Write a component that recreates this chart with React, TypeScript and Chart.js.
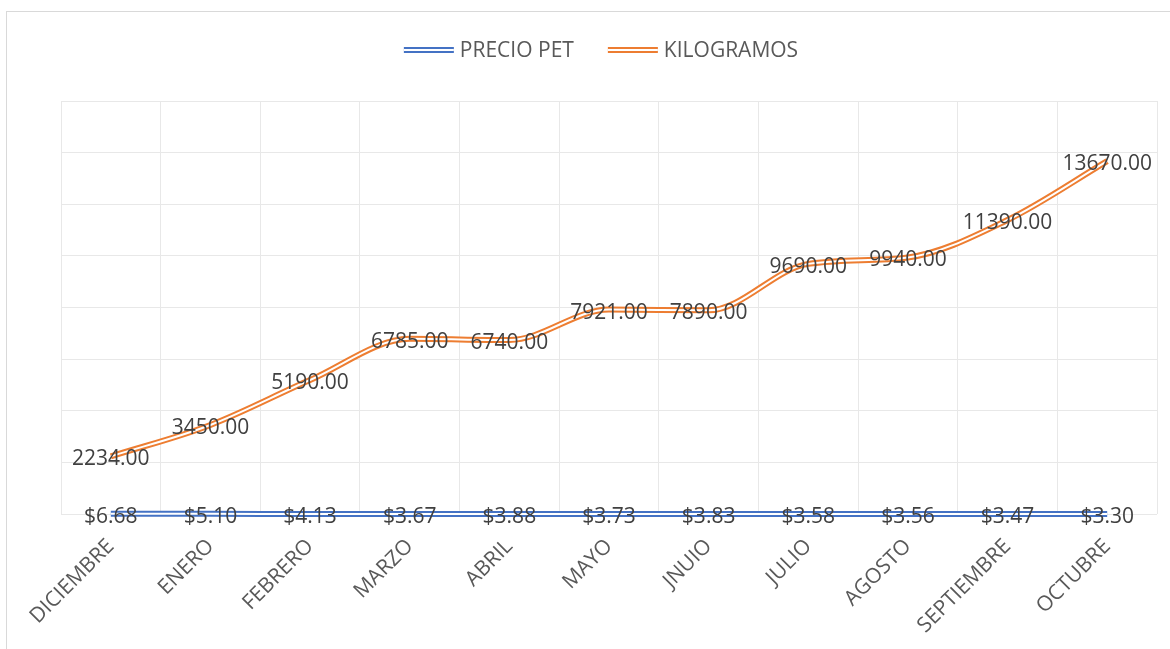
import React, { useEffect, useRef } from "react";
import { Chart, registerables } from "chart.js";

Chart.register(...registerables);

const categories = ["DICIEMBRE", "ENERO", "FEBRERO", "MARZO", "ABRIL", "MAYO", "JNUIO", "JULIO", "AGOSTO", "SEPTIEMBRE", "OCTUBRE"];
const precioPet = [6.68, 5.1, 4.13, 3.67, 3.88, 3.73, 3.83, 3.58, 3.56, 3.47, 3.3];
const kilogramos = [2234, 3450, 5190, 6785, 6740, 7921, 7890, 9690, 9940, 11390, 13670];
const seriesNames = ["PRECIO PET", "KILOGRAMOS"];
const seriesColors = ["#4472C4", "#ED7D31"];
const labelPrefixes = ["$", ""];
const yMin = 0;
const yMax = 16000;
const yStep = 2000;

const FONT = "'Open Sans', 'DejaVu Sans', sans-serif";
const GRID = "#e8e8e8";
const OUTER_W = 6;
const INNER_W = 2;

const dataLabelPlugin = {
  id: "excelDataLabels",
  afterDatasetsDraw(chart: any) {
    const ctx = chart.ctx;
    ctx.save();
    ctx.font = `21px ${FONT}`;
    ctx.fillStyle = "#404040";
    ctx.textAlign = "center";
    ctx.textBaseline = "middle";
    [0, 1].forEach((di) => {
      const meta = chart.getDatasetMeta(di);
      const values = chart.data.datasets[di].data as number[];
      meta.data.forEach((el: any, i: number) => {
        ctx.fillText(labelPrefixes[di] + values[i].toFixed(2), el.x, el.y + 3);
      });
    });
    ctx.restore();
  },
};

const legendPlugin = {
  id: "excelLegend",
  afterDraw(chart: any) {
    const ctx = chart.ctx;
    ctx.save();
    ctx.font = `21px ${FONT}`;
    const lineLen = 50;
    const gap = 6;
    const spacing = 34;
    const widths = seriesNames.map((n) => ctx.measureText(n).width);
    const total = widths.reduce((a, w) => a + lineLen + gap + w, 0) + spacing * (seriesNames.length - 1);
    const cx = (chart.chartArea.left + chart.chartArea.right) / 2 - 8;
    let x = cx - total / 2;
    const y = 50;
    seriesNames.forEach((n, i) => {
      ctx.lineCap = "butt";
      ctx.strokeStyle = seriesColors[i];
      ctx.lineWidth = OUTER_W;
      ctx.beginPath();
      ctx.moveTo(x, y);
      ctx.lineTo(x + lineLen, y);
      ctx.stroke();
      ctx.strokeStyle = "#ffffff";
      ctx.lineWidth = INNER_W;
      ctx.beginPath();
      ctx.moveTo(x, y);
      ctx.lineTo(x + lineLen, y);
      ctx.stroke();
      ctx.fillStyle = "#595959";
      ctx.textAlign = "left";
      ctx.textBaseline = "middle";
      ctx.fillText(n, x + lineLen + gap, y + 1);
      x += lineLen + gap + widths[i] + spacing;
    });
    ctx.restore();
  },
};

export default function App() {
  const ref = useRef<HTMLCanvasElement | null>(null);

  useEffect(() => {
    if (!ref.current) return;
    const series = [precioPet, kilogramos];
    const mains = series.map((d, i) => ({
      label: seriesNames[i],
      data: d,
      borderColor: seriesColors[i],
      backgroundColor: seriesColors[i],
      borderWidth: OUTER_W,
      pointRadius: 0,
      cubicInterpolationMode: "monotone",
      clip: false,
      order: 1,
    }));
    const overlays = series.map((d) => ({
      label: "",
      data: d,
      borderColor: "#ffffff",
      backgroundColor: "#ffffff",
      borderWidth: INNER_W,
      pointRadius: 0,
      cubicInterpolationMode: "monotone",
      clip: false,
      order: 0,
    }));
    const chart = new Chart(ref.current, {
      type: "line",
      data: { labels: categories, datasets: [...mains, ...overlays] as any },
      options: {
        animation: false,
        responsive: false,
        devicePixelRatio: 1,
        layout: { padding: { top: 101, left: 61, right: 13, bottom: 0 } },
        plugins: {
          legend: { display: false },
          tooltip: { enabled: false },
        },
        scales: {
          x: {
            offset: true,
            grid: { color: GRID, lineWidth: 1, drawTicks: false, offset: true },
            border: { display: false },
            ticks: {
              color: "#595959",
              font: { family: FONT, size: 21 },
              minRotation: 45,
              maxRotation: 45,
              padding: 20,
              autoSkip: false,
            },
            afterFit: (s: any) => {
              s.height = 135;
            },
          },
          y: {
            min: yMin,
            max: yMax,
            ticks: { display: false, stepSize: yStep },
            grid: { color: GRID, lineWidth: 1, drawTicks: false },
            border: { display: false },
            afterFit: (s: any) => {
              s.width = 0;
            },
          },
        },
      },
      plugins: [dataLabelPlugin, legendPlugin],
    });
    return () => chart.destroy();
  }, []);

  return (
    <div style={{ position: "fixed", left: 0, top: 0, width: 1170, height: 649, overflow: "hidden", background: "#fff" }}>
      <div
        style={{
          position: "absolute",
          left: 6,
          top: 11,
          width: 1200,
          height: 700,
          border: "1.5px solid #d9d9d9",
          boxSizing: "border-box",
        }}
      />
      <canvas ref={ref} width={1170} height={649} style={{ position: "absolute", left: 0, top: 0, width: 1170, height: 649 }} />
    </div>
  );
}
